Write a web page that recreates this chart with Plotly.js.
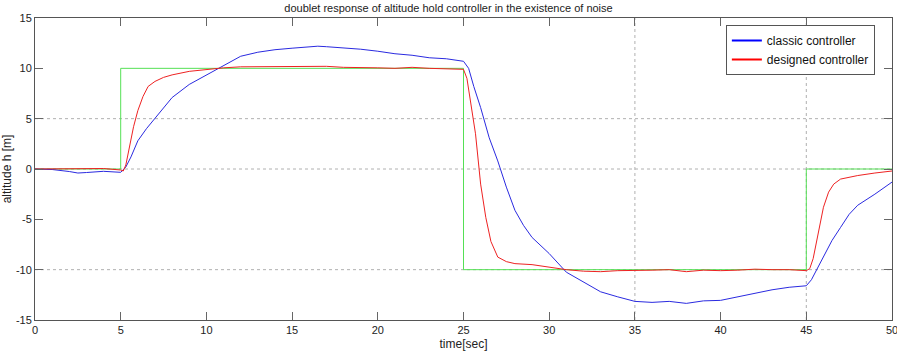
<!DOCTYPE html>
<html>
<head>
<meta charset="utf-8">
<script src="https://cdn.plot.ly/plotly-3.0.1.min.js"></script>
<style>html,body{margin:0;padding:0;background:#fff;}#chart{width:897px;height:352px;}</style>
</head>
<body>
<div id="chart"></div>
<script>
// Reference (doublet command)
const refTime = [0, 5, 5, 25, 25, 45, 45, 50];
const refAlt  = [0, 0, 10, 10, -10, -10, 0, 0];

// Classic controller response
const classicTime = [0, 1, 2, 2.5, 3, 4, 5, 5.3, 5.6, 6, 6.5, 7, 7.5, 8, 9, 10, 11, 12, 13, 14, 15, 16, 16.5, 17, 18, 19, 20, 21, 22, 23, 24, 25, 25.3, 25.6, 26, 26.5, 27, 27.5, 28, 28.5, 29, 30, 31, 32, 33, 34, 35, 36, 37, 38, 39, 40, 41, 42, 43, 44, 45, 45.3, 45.6, 46, 46.5, 47, 47.5, 48, 49, 50];
const classicAlt  = [0, -0.05, -0.25, -0.4, -0.35, -0.23, -0.33, 0.2, 1.2, 2.8, 4.0, 5.0, 6.1, 7.1, 8.4, 9.35, 10.3, 11.2, 11.6, 11.85, 12.0, 12.15, 12.2, 12.15, 12.05, 11.9, 11.7, 11.45, 11.3, 11.05, 10.95, 10.7, 10.0, 8.2, 6.1, 3.1, 0.8, -1.8, -4.1, -5.6, -6.8, -8.4, -10.25, -11.2, -12.2, -12.7, -13.15, -13.25, -13.15, -13.35, -13.1, -13.05, -12.7, -12.35, -12.0, -11.75, -11.6, -11.0, -10.0, -8.75, -7.1, -5.8, -4.5, -3.6, -2.5, -1.3];

// Designed controller response
const designedTime = [0, 1, 2, 3, 4, 5, 5.15, 5.3, 5.5, 5.75, 6, 6.3, 6.6, 7, 7.5, 8, 9, 10, 11, 12, 13, 14, 15, 16, 17, 18, 19, 20, 21, 22, 23, 24, 25, 25.2, 25.4, 25.7, 26, 26.3, 26.6, 27, 27.5, 28, 29, 30, 31, 32, 33, 34, 35, 36, 37, 38, 39, 40, 41, 42, 43, 44, 45, 45.2, 45.4, 45.7, 46, 46.3, 46.6, 47, 47.5, 48, 49, 50];
const designedAlt  = [0, 0, 0, 0.05, 0.05, -0.1, -0.2, 0.4, 2.1, 4.2, 5.8, 7.2, 8.2, 8.7, 9.1, 9.35, 9.7, 9.9, 10.05, 10.15, 10.15, 10.15, 10.2, 10.15, 10.2, 10.1, 10.1, 10.05, 10.0, 10.1, 10.0, 9.95, 9.9, 9.0, 6.8, 3.5, -1.5, -4.8, -7.2, -8.75, -9.2, -9.4, -9.5, -9.75, -10.0, -10.15, -10.2, -10.1, -10.1, -10.05, -10.0, -10.2, -10.05, -10.1, -10.05, -9.95, -10.0, -10.0, -10.1, -9.9, -8.9, -6.5, -3.8, -2.3, -1.5, -1.0, -0.8, -0.65, -0.4, -0.2];

const seriesNames = ['classic controller', 'designed controller'];
const xTickVals = [0, 5, 10, 15, 20, 25, 30, 35, 40, 45, 50];
const xTickText = ['0', '5', '10', '15', '20', '25', '30', '35', '40', '45', '50'];
const yTickVals = [-15, -10, -5, 0, 5, 10, 15];
const yTickText = ['-15', '-10', '-5', '0', '5', '10', '15'];
const xGrid = [35, 45];
const yGrid = [-10, 0, 5];

const blue = '#2a2ae0', red = '#ee2222';
const traces = [
  {x: refTime, y: refAlt, mode: 'lines', line: {color: '#55e055', width: 1}, showlegend: false},
  {x: classicTime, y: classicAlt, mode: 'lines', line: {color: blue, width: 1}, showlegend: false},
  {x: designedTime, y: designedAlt, mode: 'lines', line: {color: red, width: 1}, showlegend: false},
  // legend entries (thicker sample lines as in the reference)
  {x: [null], y: [null], mode: 'lines', name: seriesNames[0], line: {color: '#0000ff', width: 2}},
  {x: [null], y: [null], mode: 'lines', name: seriesNames[1], line: {color: '#ff0000', width: 2}}
];

const shapes = [];
xGrid.forEach(v => shapes.push({type: 'line', xref: 'x', yref: 'paper', x0: v, x1: v, y0: 0, y1: 1, line: {color: '#b0b0b0', width: 1, dash: 'dot'}, layer: 'below'}));
yGrid.forEach(v => shapes.push({type: 'line', xref: 'paper', yref: 'y', x0: 0, x1: 1, y0: v, y1: v, line: {color: '#b0b0b0', width: 1, dash: 'dot'}, layer: 'below'}));

const layout = {
  width: 897, height: 352,
  margin: {l: 35, r: 5, t: 18, b: 32},
  paper_bgcolor: '#ffffff', plot_bgcolor: '#ffffff',
  font: {family: 'Arial, Liberation Sans, sans-serif', size: 11, color: '#222'},
  title: {text: 'doublet response of altitude hold controller in the existence of noise', x: 0.5, xanchor: 'center', y: 0.978, yanchor: 'middle', font: {size: 11, color: '#222'}},
  xaxis: {
    range: [0, 50], tickvals: xTickVals, ticktext: xTickText, ticklabeloverflow: 'allow',
    showgrid: false, zeroline: false, showline: true, mirror: 'ticks', linecolor: '#555', linewidth: 1,
    ticks: 'inside', ticklen: 8, tickcolor: '#666', tickfont: {size: 11},
    title: {text: 'time[sec]', font: {size: 12}, standoff: 4}
  },
  yaxis: {
    range: [-15, 15], tickvals: yTickVals, ticktext: yTickText,
    showgrid: false, zeroline: false, showline: true, mirror: 'ticks', linecolor: '#555', linewidth: 1,
    ticks: 'inside', ticklen: 8, tickcolor: '#666', tickfont: {size: 11},
    title: {text: 'altitude h [m]', font: {size: 12}, standoff: 4}
  },
  legend: {
    x: 0.98, y: 0.977, xanchor: 'right', yanchor: 'top',
    bgcolor: '#ffffff', bordercolor: '#555', borderwidth: 1,
    font: {size: 12, color: '#111'}, tracegroupgap: 0
  },
  shapes: shapes,
  showlegend: true
};

Plotly.newPlot('chart', traces, layout, {displayModeBar: false, staticPlot: true});
</script>
</body>
</html>
